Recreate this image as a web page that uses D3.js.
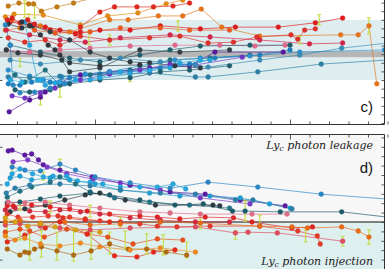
<!DOCTYPE html>
<html>
<head>
<meta charset="utf-8">
<script src="https://cdn.jsdelivr.net/npm/d3@7"></script>
<style>
  body { margin: 0; background: #fff; }
  svg { display: block; }
</style>
</head>
<body>
<script>
(function () {

  // x ticks (time axis, shared by both panels)
  let xTicks      = [100, 120, 140, 160, 180, 220, 240, 260, 280, 300, 320, 340, 360, 380, 420, 440, 460, 480, 500];
  let xMajorTicks = [200, 400];

  // panel c
  let yTicksC      = [-1.0, -0.8, -0.6, -0.4, -0.2, 0, 0.2, 0.4, 0.6, 0.8, 1.0, 1.2, 1.4, 1.6, 1.8];
  let yMajorTicksC = [0, 1];
  let bandC        = [0, 1.4];
  let grayBandC    = [0.53, 0.67];

  let seriesC = [
    [[111,1.72],[122,1.79],[132,1.77],[137,1.77],[145,1.60],[161,1.70],[178,1.79],[205,1.95]],
    [[108,1.47],[117,1.53],[147,1.51],[185,1.28],[213,1.49],[244,1.56],[273,1.77],[290,1.86],[308,1.93]],
    [[185,1.23],[205,1.58],[220,1.70],[243,1.70],[260,1.70],[280,1.72],[297,1.79]],
    [[108,1.16],[123,1.21],[144,1.26],[174,1.12],[215,1.40],[234,1.40],[265,1.49],[290,1.49],[309,1.65],[330,1.23],[369,1.02],[452,1.05],[470,1.05],[481,1.26],[489,-0.09]],
    [[113,1.35],[133,1.28],[154,1.16],[180,1.07],[205,1.16],[236,1.16],[267,1.26],[308,1.19],[344,1.23],[388,1.23],[426,1.33],[454,1.44]],
    [[111,0.98],[128,0.88],[149,0.93],[164,0.81],[185,1.02],[215,0.93],[256,0.98],[287,1.02],[316,0.86],[342,0.88],[366,1.0],[401,1.05],[408,0.95],[415,1.16],[426,1.19]],
    [[109,1.16],[133,1.05],[164,0.93],[190,0.88],[226,0.98],[277,1.05],[318,1.0],[369,0.93],[420,0.84],[454,0.86]],
    [[115,1.40],[138,1.16],[159,1.09],[195,1.12],[226,1.21],[267,1.21],[297,1.16],[338,1.16]],
    [[109,0.70],[133,0.65],[164,0.70],[195,0.74],[236,0.79],[282,0.81],[328,0.81],[364,0.79],[395,0.81]],
    [[111,1.30],[125,1.21],[136,1.26],[154,1.12],[174,0.93],[195,0.65],[215,0.51],[236,0.42],[256,0.40],[282,0.33],[308,0.28]],
    [[113,0.81],[144,0.65],[174,0.51],[205,0.42],[246,0.58],[277,0.70],[308,0.79],[359,0.81],[400,0.81]],
    [[109,0.70],[121,0.63],[144,0.58],[166,0.465],[174,0.19],[205,0.28],[246,0.70],[287,0.65],[338,0.70]],
    [[118,0.12],[128,-0.05],[149,0.23],[164,-0.12],[195,0.12],[236,0.23],[277,0.465],[318,0.51],[359,0.58]],
    [[112,-0.74],[133,-0.465],[144,-0.40],[149,-0.28],[164,-0.05],[185,0.12],[215,0.19],[256,0.28],[297,0.33],[323,0.65],[393,0.65]],
    [[115,-0.37],[128,-0.42],[144,-0.30],[159,-0.19],[185,0],[215,0.14],[246,0.23],[277,0.37],[303,0.35],[351,0.53]],
    [[111,-0.09],[123,-0.12],[135,-0.05],[154,-0.05],[174,0.05],[205,0.14],[236,0.19],[267,0.28],[297,0.37],[323,0.51],[369,0.58],[400,0.70]],
    [[128,1.35],[133,0.81],[141,0],[149,-0.12],[164,-0.05],[195,0],[236,0.14],[277,0.28],[318,0.465]],
    [[111,0.23],[133,0.09],[147,0],[166,0.07],[190,0.14],[215,0.19],[246,0.33],[282,0.465],[308,0.51],[359,0.56],[410,0.65],[497,0.70]],
    [[111,0.07],[133,0.05],[164,0.09],[205,0.12],[256,0.16],[303,0.07],[316,0.07],[367,0.19],[432,0.37],[500,0.465]],
    [[113,0.465],[144,0.37],[185,0.465],[226,0.51],[267,0.42],[303,0.35],[316,0.30],[369,0.465],[410,0.58],[453,0.74],[500,0.86]],
    [[118,-0.23],[133,-0.28],[154,-0.23],[174,-0.09],[205,0],[236,0.05],[267,0.19],[297,0.23],[338,0.33]],
    [[113,0],[125,-0.05],[144,0],[159,-0.07],[180,0],[205,0.05],[226,0.19],[256,0.23],[287,0.40],[308,0.465]],
    [[108,1.28],[113,0.81],[116,-0.12],[123,-0.30],[138,-0.28],[154,-0.19],[169,-0.09]],
    [[110,1.40],[115,1.44],[123,1.33],[131,1.40],[138,1.30],[149,1.23],[164,1.16],[185,1.12]],
    [[125,1.35],[133,1.26],[144,1.05],[152,0.81],[159,0.70],[164,0.58],[174,0.40],[205,0.33],[246,0.35]]
  ];

  let colorsC = [
    '#c47a12', '#e38c14', '#e0281e', '#e8741a', '#e31a1c', '#e0302a', '#d6264a', '#ec5a1e',
    '#e2688a', '#2f3b44', '#20606e', '#333d44', '#23707f', '#58189e', '#7434c4', '#1f7fc0',
    '#26a4dc', '#2c90d0', '#2b7fa6', '#3a8cb8', '#1f5e6e', '#22a8e0', '#2a88c4', '#dd2222',
    '#30363c'
  ];

  // [x, y, half error]
  let errorsC = [
    [128,1.65,0.19], [138,1.60,0.16], [132,1.40,0.14], [194,0.98,0.16], [285,1.26,0.12],
    [481,1.26,0.19], [430,1.40,0.12], [123,0.40,0.09], [164,-0.28,0.12], [144,-0.51,0.07],
    [215,0.93,0.12], [410,0.93,0.09], [236,0.05,0.09], [267,0.33,0.07]
  ];

  // panel d
  let yTicksD      = [-1.25, -1.0, -0.75, -0.5, -0.25, 0, 0.25, 0.5, 0.75, 1.0, 1.25, 1.5, 1.75, 2.0, 2.25];
  let yMajorTicksD = [-1, 0, 1, 2];

  let seriesD = [
    [[111,1.89],[115,1.91],[128,1.78],[135,1.81],[142,1.65],[147,1.52],[164,1.38],[197,1.20],[236,0.98],[277,0.80],[313,0.74],[349,0.585],[395,0.43]],
    [[116,1.60],[131,1.65],[151,1.46],[171,1.28],[198,1.14],[226,1.04],[267,0.85],[308,0.64],[359,0.48]],
    [[115,1.46],[128,1.38],[144,1.36],[164,1.54],[180,1.38],[200,1.20],[236,1.04],[277,0.90],[316,1.06],[367,0.93],[432,0.74],[500,0.61]],
    [[110,1.01],[115,1.28],[123,1.41],[136,1.28],[147,1.20],[157,1.22],[171,1.22],[182,1.09],[195,1.06],[208,1.01],[226,0.93],[246,0.93],[264,0.93],[280,1.01],[293,0.88]],
    [[113,1.17],[123,1.22],[135,1.12],[154,1.17],[174,1.12],[200,1.01],[226,0.85],[256,0.77],[287,0.69],[318,0.69],[349,0.64],[379,0.48],[400,0.37]],
    [[110,0.66],[123,0.82],[135,0.93],[154,1.06],[164,1.20],[180,1.01],[195,0.80],[220,0.64],[256,0.53],[297,0.45],[338,0.37]],
    [[110,0.51],[123,0.53],[144,0.61],[164,0.69],[195,0.77],[215,0.72],[246,0.585],[282,0.45],[311,0.48],[341,0.29],[354,0.29],[390,0.27],[453,0.27],[500,0.13]],
    [[113,0.27],[128,0.35],[149,0.45],[169,0.585],[190,0.72],[205,0.77],[231,0.585],[262,0.45],[321,0.45],[328,0.43]],
    [[109,0.77],[118,0.90],[133,0.98],[164,1.01],[195,0.96],[226,0.85],[267,0.77],[303,0.74],[344,0.585],[362,0.585],[402,0.35]],
    [[110,0.43],[116,0.43],[135,0.45],[154,0.40],[174,0.35],[192,0.29],[215,0.21],[246,0.16],[264,0.13],[287,0.08],[313,0.13],[342,0.11],[361,0],[402,-0.16],[423,-0.13]],
    [[110,0.21],[121,0.13],[136,0.13],[152,0.16],[162,0.16],[174,0.13],[190,0.08],[205,0.03],[226,0],[246,-0.05],[264,-0.11],[284,-0.13],[318,-0.11],[369,-0.11],[408,-0.24],[428,-0.37],[431,-0.585]],
    [[108,0.32],[118,0.37],[133,0.29],[149,0.27],[164,0.32],[185,0.27],[205,0.21],[236,0.11],[267,0.05],[303,0],[338,0]],
    [[111,0.53],[128,0.51],[149,0.53],[174,0.45],[205,0.37],[246,0.27],[277,0.24],[308,0.21],[361,0.21],[397,0.21]],
    [[108,-0.08],[123,-0.05],[144,-0.11],[164,-0.16],[195,-0.21],[236,-0.16],[303,-0.13],[344,-0.29],[357,-0.27],[387,-0.29],[454,-0.51]],
    [[108,0],[123,0.05],[144,-0.03],[169,0],[195,-0.08],[226,-0.05],[267,0],[308,-0.03],[369,-0.11],[402,-0.13],[418,-0.16],[453,-0.13],[470,-0.24],[481,-0.40]],
    [[108,-0.27],[123,-0.19],[133,-0.24],[148,-0.40],[171,-0.19],[192,-0.32],[213,-0.40],[239,-0.585],[264,-0.45],[290,-0.48]],
    [[110,-0.53],[128,-0.35],[149,-0.16],[167,0.11],[190,0.05],[215,0]],
    [[164,0],[192,-0.32],[220,-0.90],[243,-0.93],[260,-0.80],[282,-0.745]],
    [[110,-0.72],[123,-0.88],[128,-0.80],[132,-0.82],[138,-0.72],[145,-0.66],[161,-0.77],[178,-0.88],[196,-0.77],[215,-0.585],[234,-0.72],[253,-0.72],[273,-0.80],[294,-0.88]],
    [[108,0.11],[118,0],[131,-0.11],[144,-0.05],[159,-0.13],[180,-0.21],[205,-0.27]],
    [[108,-0.37],[118,-0.48],[128,-0.43],[144,-0.585],[164,-0.64],[185,-0.56],[205,-0.66],[236,-0.745],[267,-0.69],[303,-0.80]]
  ];

  let colorsD = [
    '#5c1aa4', '#7a3ac8', '#2a86c6', '#25a6de', '#1ea0d4', '#237384', '#1d5a6a', '#2e3a42',
    '#2d7faa', '#e02424', '#e53a2a', '#d4283e', '#e06c86', '#e04b5e', '#ea6a16', '#e8501c',
    '#e2301e', '#e8281a', '#b06a0c', '#d8a012', '#f08a20'
  ];

  let errorsD = [
    [110,-0.27,0.27], [123,-0.24,0.24], [133,-0.64,0.37], [145,-0.585,0.35], [161,-0.64,0.37],
    [178,-0.61,0.43], [196,-0.64,0.35], [215,-0.56,0.29], [231,-0.48,0.24], [253,-0.585,0.27],
    [270,-0.61,0.27], [294,-0.745,0.21], [164,1.54,0.13], [115,1.44,0.13], [147,1.22,0.11],
    [154,0.40,0.16], [123,0.45,0.13], [354,0.29,0.27], [344,-0.35,0.11], [416,-0.37,0.16],
    [481,-0.40,0.19], [454,-0.51,0.13], [195,0.29,0.16], [226,0,0.13], [308,-0.05,0.13],
    [369,0.05,0.13]
  ];

  let width  = 390;
  let height = 269;
  let frameLeft  = -1.5;
  let frameRight = 384.5;
  let errColor   = '#c4dc3c';

  let x = d3.scaleLinear().domain([200, 400]).range([95, 290]);

  let svg = d3.select('body').append('svg')
      .attr('width', width)
      .attr('height', height);

  svg.append('rect').attr('width', width).attr('height', height).attr('fill', '#fff');

  let defs = svg.append('defs');

  function drawData(g, y, series, colors, errors) {
    let line = d3.line().x(function (d) { return x(d[0]); }).y(function (d) { return y(d[1]); });

    g.selectAll('path.series').data(series).enter()
      .append('path')
      .attr('class', 'series')
      .attr('d', line)
      .attr('fill', 'none')
      .attr('stroke', function (d, i) { return colors[i]; })
      .attr('stroke-width', 0.9)
      .attr('stroke-opacity', 0.75);

    g.selectAll('line.err').data(errors).enter()
      .append('line')
      .attr('class', 'err')
      .attr('x1', function (d) { return x(d[0]); })
      .attr('x2', function (d) { return x(d[0]); })
      .attr('y1', function (d) { return y(d[1] - d[2]); })
      .attr('y2', function (d) { return y(d[1] + d[2]); })
      .attr('stroke', errColor)
      .attr('stroke-width', 1.1);

    g.selectAll('g.caps').data(errors).enter()
      .append('g')
      .attr('class', 'caps')
      .each(function (d) {
        let c = d3.select(this);
        [d[1] - d[2], d[1] + d[2]].forEach(function (v) {
          c.append('line')
            .attr('x1', x(d[0]) - 2).attr('x2', x(d[0]) + 2)
            .attr('y1', y(v)).attr('y2', y(v))
            .attr('stroke', errColor).attr('stroke-width', 1);
        });
      });

    series.forEach(function (s, i) {
      g.selectAll('circle.s' + i).data(s).enter()
        .append('circle')
        .attr('class', 's' + i)
        .attr('cx', function (d) { return x(d[0]); })
        .attr('cy', function (d) { return y(d[1]); })
        .attr('r', 2.4)
        .attr('fill', colors[i])
        .attr('stroke', d3.color(colors[i]).darker(0.4))
        .attr('stroke-width', 0.4);
    });
  }

  function drawTicks(g, axis) {
    g.call(axis);
    g.select('.domain').remove();
    g.selectAll('line').attr('stroke', '#333').attr('stroke-width', 0.8);
    g.selectAll('text').remove();
  }

  // ---------- panel c ----------
  let yC = d3.scaleLinear().domain([0, 1]).range([80, 37]);
  let cTop = -20, cBottom = 124.5;

  defs.append('clipPath').attr('id', 'clipC')
    .append('rect').attr('x', frameLeft).attr('y', cTop)
    .attr('width', frameRight - frameLeft).attr('height', cBottom - cTop);

  let gc = svg.append('g').attr('clip-path', 'url(#clipC)');

  gc.append('rect')
    .attr('x', frameLeft).attr('width', frameRight - frameLeft)
    .attr('y', yC(bandC[1])).attr('height', yC(bandC[0]) - yC(bandC[1]))
    .attr('fill', '#deeef0');

  gc.append('rect')
    .attr('x', frameLeft).attr('width', frameRight - frameLeft)
    .attr('y', yC(grayBandC[1])).attr('height', yC(grayBandC[0]) - yC(grayBandC[1]))
    .attr('fill', '#b6b6b6');

  drawData(gc, yC, seriesC, colorsC, errorsC);

  drawTicks(svg.append('g').attr('transform', 'translate(0,' + cBottom + ')'),
    d3.axisBottom(x).tickValues(xTicks).tickSize(-3).tickFormat(''));
  drawTicks(svg.append('g').attr('transform', 'translate(0,' + cBottom + ')'),
    d3.axisBottom(x).tickValues(xMajorTicks).tickSize(-5).tickFormat(''));
  drawTicks(svg.append('g').attr('transform', 'translate(' + frameRight + ',0)'),
    d3.axisLeft(yC).tickValues(yTicksC).tickSize(3).tickFormat(''));
  drawTicks(svg.append('g').attr('transform', 'translate(' + frameLeft + ',0)'),
    d3.axisRight(yC).tickValues(yMajorTicksC).tickSize(4).tickFormat(''));

  svg.append('path')
    .attr('d', 'M' + frameLeft + ',' + cBottom + 'H' + frameRight + 'V' + cTop)
    .attr('fill', 'none').attr('stroke', '#333').attr('stroke-width', 1);

  svg.append('text')
    .attr('x', 373).attr('y', 112)
    .attr('text-anchor', 'end')
    .attr('font-family', 'Liberation Sans, Arial, sans-serif')
    .attr('font-size', 15)
    .attr('fill', '#111')
    .text('c)');

  // ---------- panel d ----------
  let yD = d3.scaleLinear().domain([0, 1]).range([222, 184.4]);
  let dTop = 134.5, dBottom = 300;

  defs.append('clipPath').attr('id', 'clipD')
    .append('rect').attr('x', frameLeft).attr('y', dTop)
    .attr('width', frameRight - frameLeft).attr('height', dBottom - dTop);

  let gd = svg.append('g').attr('clip-path', 'url(#clipD)');

  gd.append('rect')
    .attr('x', frameLeft).attr('width', frameRight - frameLeft)
    .attr('y', dTop).attr('height', yD(0) - dTop)
    .attr('fill', '#f7f7f7');

  gd.append('rect')
    .attr('x', frameLeft).attr('width', frameRight - frameLeft)
    .attr('y', yD(0)).attr('height', dBottom - yD(0))
    .attr('fill', '#deeff0');

  gd.append('line')
    .attr('x1', frameLeft).attr('x2', frameRight)
    .attr('y1', yD(0)).attr('y2', yD(0))
    .attr('stroke', '#5a5a5a').attr('stroke-width', 1.6);

  drawData(gd, yD, seriesD, colorsD, errorsD);

  drawTicks(svg.append('g').attr('transform', 'translate(0,' + dTop + ')'),
    d3.axisTop(x).tickValues(xTicks).tickSize(-3).tickFormat(''));
  drawTicks(svg.append('g').attr('transform', 'translate(0,' + dTop + ')'),
    d3.axisTop(x).tickValues(xMajorTicks).tickSize(-5).tickFormat(''));
  drawTicks(svg.append('g').attr('transform', 'translate(' + frameRight + ',0)'),
    d3.axisLeft(yD).tickValues(yTicksD).tickSize(3).tickFormat(''));
  drawTicks(svg.append('g').attr('transform', 'translate(' + frameLeft + ',0)'),
    d3.axisRight(yD).tickValues(yMajorTicksD).tickSize(4).tickFormat(''));

  svg.append('path')
    .attr('d', 'M' + frameLeft + ',' + dTop + 'H' + frameRight + 'V' + dBottom)
    .attr('fill', 'none').attr('stroke', '#333').attr('stroke-width', 1);

  svg.append('text')
    .attr('x', 373).attr('y', 173)
    .attr('text-anchor', 'end')
    .attr('font-family', 'Liberation Sans, Arial, sans-serif')
    .attr('font-size', 15)
    .attr('fill', '#111')
    .text('d)');

  function lyLabel(yPos, word) {
    let t = svg.append('text')
      .attr('x', 373).attr('y', yPos)
      .attr('text-anchor', 'end')
      .attr('font-family', 'DejaVu Serif, serif')
      .attr('font-style', 'italic')
      .attr('font-size', 11)
      .attr('fill', '#222');
    t.append('tspan').text('Ly');
    t.append('tspan').attr('font-size', 7.5).attr('dy', 2).text('c');
    t.append('tspan').attr('dy', -2).text(' photon ' + word);
  }

  lyLabel(149, 'leakage');
  lyLabel(265, 'injection');

})();
</script>
</body>
</html>
